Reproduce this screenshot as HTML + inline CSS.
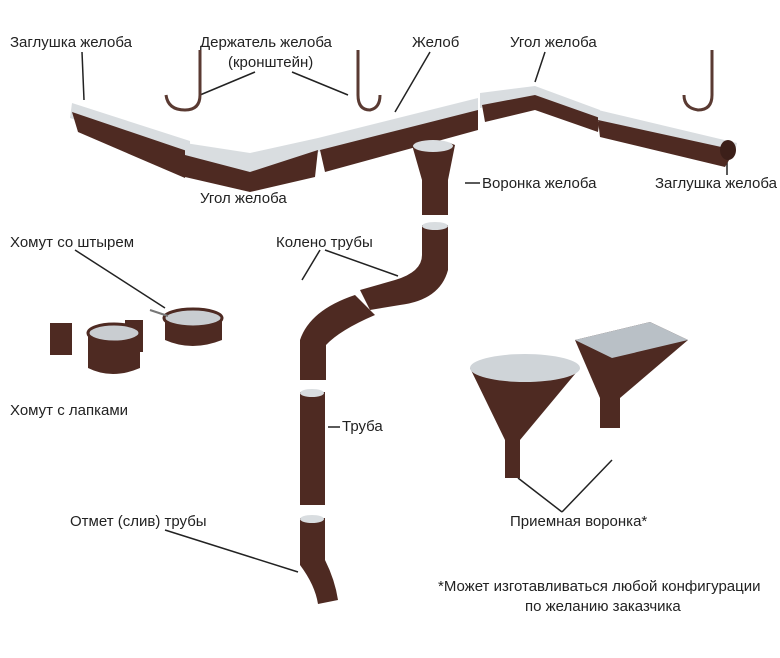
<!DOCTYPE html>
<html><head><meta charset="utf-8"><style>
body{margin:0;background:#fff}
svg{display:block}
text{font-family:"Liberation Sans",sans-serif;font-size:15px;fill:#222}
</style></head><body>
<svg width="780" height="658" viewBox="0 0 780 658">
<g stroke="#222" stroke-width="1.5" fill="none">
<line x1="82" y1="52" x2="84" y2="100"/>
<line x1="255" y1="72" x2="200" y2="95"/>
<line x1="292" y1="72" x2="348" y2="95"/>
<line x1="430" y1="52" x2="395" y2="112"/>
<line x1="545" y1="52" x2="535" y2="82"/>
<line x1="465" y1="183" x2="480" y2="183"/>
<line x1="727" y1="155" x2="727" y2="175"/>
<line x1="75" y1="250" x2="165" y2="308"/>
<line x1="320" y1="250" x2="302" y2="280"/>
<line x1="325" y1="250" x2="398" y2="276"/>
<line x1="328" y1="427" x2="340" y2="427"/>
<line x1="165" y1="530" x2="298" y2="572"/>
<line x1="562" y1="512" x2="518" y2="478"/>
<line x1="562" y1="512" x2="612" y2="460"/>
</g>
<g stroke="#5a3a32" stroke-width="3" fill="none">
<path d="M200 50 V95 Q200 110 185 110 Q168 110 166 95"/>
<path d="M358 50 V95 Q358 110 370 110 Q380 108 380 95"/>
<path d="M712 50 V95 Q712 110 698 110 Q684 108 684 95"/>
</g>
<g>
<polygon points="72,103 190,141 190,158 70,118" fill="#d9dde0"/>
<polygon points="72,112 190,152 185,178 78,132" fill="#4e2a22"/>
<polygon points="185,143 250,153 318,138 318,153 250,175 185,160" fill="#d9dde0"/>
<polygon points="185,155 250,172 318,150 315,177 250,192 185,177" fill="#4e2a22"/>
<polygon points="318,138 478,98 478,112 318,152" fill="#d9dde0"/>
<polygon points="320,150 478,110 478,130 325,172" fill="#4e2a22"/>
<polygon points="480,93 535,86 600,110 600,120 535,98 480,108" fill="#d9dde0"/>
<polygon points="482,105 535,95 600,118 598,132 535,110 485,122" fill="#4e2a22"/>
<polygon points="598,110 737,143 735,152 598,122" fill="#d9dde0"/>
<polygon points="598,120 735,150 725,167 600,137" fill="#4e2a22"/>
<ellipse cx="728" cy="150" rx="8" ry="10" fill="#3c1f19"/>
</g>
<g fill="#4e2a22">
<path d="M412 145 Q432 135 455 145 L448 180 L448 215 L422 215 L422 180 Z"/>
<ellipse cx="433" cy="146" rx="20" ry="6" fill="#d9dde0"/>
<path d="M422 225 H448 V270 Q440 300 400 305 L370 310 L360 290 L395 280 Q422 272 422 255 Z"/>
<ellipse cx="435" cy="226" rx="13" ry="4" fill="#d9dde0"/>
<path d="M355 295 L375 315 Q340 330 326 345 L326 380 L300 380 L300 340 Q310 310 355 295 Z"/>
<rect x="300" y="392" width="25" height="113"/>
<ellipse cx="312" cy="393" rx="12" ry="4" fill="#d9dde0"/>
<path d="M300 518 H325 V560 Q335 580 338 600 L318 604 Q315 585 300 565 Z"/>
<ellipse cx="312" cy="519" rx="12" ry="4" fill="#d9dde0"/>
</g>
<g>
<rect x="50" y="323" width="22" height="32" fill="#4e2a22"/>
<rect x="125" y="320" width="18" height="32" fill="#4e2a22"/>
<path d="M88 335 V368 Q112 380 140 368 V335 Z" fill="#4e2a22"/>
<ellipse cx="114" cy="333" rx="26" ry="9" fill="#c9cdd1" stroke="#4e2a22" stroke-width="3"/>
<path d="M165 318 V340 Q192 352 222 340 V318 Z" fill="#4e2a22"/>
<ellipse cx="193" cy="318" rx="29" ry="9" fill="#c9cdd1" stroke="#4e2a22" stroke-width="3"/>
<line x1="150" y1="310" x2="168" y2="316" stroke="#777" stroke-width="2"/>
</g>
<g>
<path d="M470 368 Q525 350 580 368 L520 440 L520 478 L505 478 L505 440 Z" fill="#4e2a22"/>
<ellipse cx="525" cy="368" rx="55" ry="14" fill="#cfd4d8"/>
<polygon points="575,340 650,322 688,340 620,398 600,398" fill="#4e2a22"/>
<polygon points="575,340 650,322 688,340 612,358" fill="#b9c0c6"/>
<rect x="600" y="398" width="20" height="30" fill="#4e2a22"/>
</g>
<text x="10" y="47">Заглушка желоба</text>
<text x="200" y="47">Держатель желоба</text>
<text x="228" y="67">(кронштейн)</text>
<text x="412" y="47">Желоб</text>
<text x="510" y="47">Угол желоба</text>
<text x="200" y="203">Угол желоба</text>
<text x="482" y="188">Воронка желоба</text>
<text x="655" y="188">Заглушка желоба</text>
<text x="10" y="247">Хомут со штырем</text>
<text x="276" y="247">Колено трубы</text>
<text x="10" y="415">Хомут с лапками</text>
<text x="342" y="431">Труба</text>
<text x="70" y="526">Отмет (слив) трубы</text>
<text x="510" y="526">Приемная воронка*</text>
<text x="438" y="591">*Может изготавливаться любой конфигурации</text>
<text x="525" y="611">по желанию заказчика</text>
</svg>
</body></html>
